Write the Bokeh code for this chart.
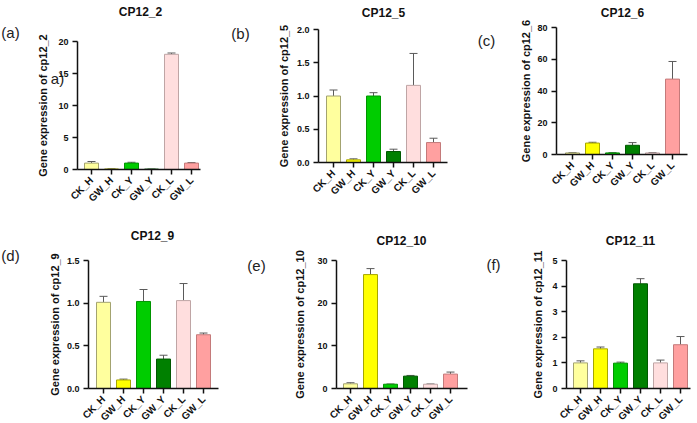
import math

from bokeh.embed import file_html
from bokeh.layouts import column, row
from bokeh.models import (ColumnDataSource, FixedTicker, Label, PrintfTickFormatter,
                          Range1d, TeeHead, Whisker)
from bokeh.plotting import figure
from bokeh.resources import INLINE

# ---- data -------------------------------------------------------------
categories = ["CK_H", "GW_H", "CK_Y", "GW_Y", "CK_L", "GW_L"]
bar_colors = ["#FFFF9E", "#FFFF00", "#00CC00", "#008000", "#FFDEDE", "#FFA0A0"]
edge_colors = ["#A3A370", "#A6A600", "#009400", "#005800", "#BFA5A5", "#C47A7A"]

genes = ["CP12_2", "CP12_5", "CP12_6", "CP12_9", "CP12_10", "CP12_11"]
panel_tags = ["(a)", "(b)", "(c)", "(d)", "(e)", "(f)"]

cp12_2_mean = [1.0, 0.08, 1.0, 0.06, 18.0, 1.0]
cp12_2_sem = [0.25, 0.02, 0.13, 0.01, 0.2, 0.08]
cp12_5_mean = [1.0, 0.04, 1.0, 0.165, 1.16, 0.30]
cp12_5_sem = [0.09, 0.015, 0.05, 0.035, 0.48, 0.065]
cp12_6_mean = [1.0, 7.2, 1.0, 5.8, 1.0, 47.5]
cp12_6_sem = [0.2, 0.5, 0.2, 1.7, 0.25, 11.1]
cp12_9_mean = [1.01, 0.10, 1.02, 0.345, 1.03, 0.63]
cp12_9_sem = [0.07, 0.01, 0.14, 0.045, 0.20, 0.02]
cp12_10_mean = [1.1, 26.7, 1.0, 2.9, 1.0, 3.38]
cp12_10_sem = [0.25, 1.4, 0.06, 0.16, 0.06, 0.47]
cp12_11_mean = [1.0, 1.55, 0.99, 4.09, 1.0, 1.71]
cp12_11_sem = [0.08, 0.07, 0.04, 0.2, 0.11, 0.32]

means = [cp12_2_mean, cp12_5_mean, cp12_6_mean, cp12_9_mean, cp12_10_mean, cp12_11_mean]
sems = [cp12_2_sem, cp12_5_sem, cp12_6_sem, cp12_9_sem, cp12_10_sem, cp12_11_sem]
y_max = [20, 2.0, 80, 1.5, 30, 5]
y_step = [5, 0.5, 20, 0.5, 10, 1]
y_fmt = ["%d", "%.1f", "%d", "%.1f", "%d", "%d"]

# ---- page geometry (pixels) ------------------------------------------
# Each panel's canvas (x0, y0, w, h) and where its axes sit on the page:
# ax = y-axis x, bar1 = first bar centre, xend = right end of x-axis,
# base = y of value 0, top = y of the top tick.
geom = [
    dict(x0=0,   y0=0,   w=230, h=212, ax=77,  bar1=91,  xend=200, base=169, top=41, so=6),
    dict(x0=230, y0=0,   w=230, h=212, ax=318, bar1=333, xend=447, base=162, top=29, so=4),
    dict(x0=460, y0=0,   w=237, h=212, ax=556, bar1=572, xend=687, base=154, top=27, so=2),
    dict(x0=0,   y0=212, w=235, h=211, ax=88,  bar1=103, xend=218, base=388, top=260, so=3),
    dict(x0=235, y0=212, w=235, h=211, ax=336, bar1=350, xend=467, base=388, top=260, so=8),
    dict(x0=470, y0=212, w=227, h=211, ax=566, bar1=580, xend=690, base=388, top=260, so=5),
]
CAT_PX = 20.0  # pixels per category slot
title_pos = [(140, 11), (383, 12), (622, 12), (152, 235), (401, 240), (630, 240)]
tag_pos = [(10, 32), (240, 33), (486, 40), (10, 255), (256, 265), (493, 264)]

FONT = "Liberation Sans"


def canvas_text(p, g, px, py, text, size, style="normal", color="#222222"):
    p.add_layout(Label(x=px - g["x0"], y=py - g["y0"], x_units="canvas", y_units="canvas",
                       text=text, text_align="center", text_baseline="middle",
                       text_font=FONT, text_font_size=size, text_font_style=style,
                       text_color=color))


figs = []
for i, gene in enumerate(genes):
    g = geom[i]
    xs = list(range(1, len(categories) + 1))

    # map the whole canvas onto data ranges so the axes land where wanted
    x_start = 1 - (g["bar1"] - g["x0"]) / CAT_PX
    x_end = x_start + g["w"] / CAT_PX
    y_per_px = y_max[i] / (g["base"] - g["top"])
    y_start = -(g["y0"] + g["h"] - g["base"]) * y_per_px
    y_end = (g["base"] - g["y0"]) * y_per_px
    x_axis_lo = x_start + (g["ax"] - g["x0"]) / CAT_PX
    x_axis_hi = x_start + (g["xend"] - g["x0"]) / CAT_PX

    src = ColumnDataSource(dict(
        x=xs, top=means[i],
        upper=[m + s for m, s in zip(means[i], sems[i])],
        fill=bar_colors, edge=edge_colors,
    ))
    p = figure(width=g["w"], height=g["h"], output_backend="svg",
               toolbar_location=None,
               x_range=Range1d(x_start, x_end), y_range=Range1d(y_start, y_end),
               min_border=0)
    p.title.text = ""
    p.title.visible = False
    p.outline_line_color = None
    p.xgrid.visible = False
    p.ygrid.visible = False

    p.add_layout(Whisker(source=src, base="x", lower="top", upper="upper",
                         line_color="#5A5A5A", line_width=1,
                         upper_head=TeeHead(size=8, line_color="#5A5A5A", line_width=1),
                         lower_head=None, level="underlay"))
    p.vbar(x="x", top="top", width=0.7, bottom=0, source=src,
           fill_color="fill", line_color="edge", line_width=1)

    ticks_y = [k * y_step[i] for k in range(int(round(y_max[i] / y_step[i])) + 1)]
    ya = p.yaxis[0]
    ya.fixed_location = x_axis_lo
    ya.bounds = (0, y_max[i])
    ya.ticker = FixedTicker(ticks=ticks_y)
    ya.formatter = PrintfTickFormatter(format=y_fmt[i])
    ya.axis_label = "Gene expression of " + gene.lower()
    ya.axis_label_text_font = FONT
    ya.axis_label_text_font_size = "11px"
    ya.axis_label_text_font_style = "bold"
    ya.axis_label_text_color = "#111111"
    ya.axis_label_standoff = g["so"]

    xa = p.xaxis[0]
    xa.fixed_location = 0
    xa.bounds = (x_axis_lo, x_axis_hi)
    xa.ticker = FixedTicker(ticks=xs)
    xa.major_label_overrides = {k: c for k, c in zip(xs, categories)}
    xa.major_label_orientation = math.pi / 4

    for ax in (xa, ya):
        ax.axis_line_color = "#111111"
        ax.axis_line_width = 1.5
        ax.major_tick_line_color = "#111111"
        ax.major_tick_line_width = 1.5
        ax.major_tick_out = 5
        ax.major_tick_in = 0
        ax.minor_tick_line_color = None
        ax.major_label_text_font = FONT
        ax.major_label_text_font_style = "bold"
        ax.major_label_text_color = "#111111"
        ax.major_label_standoff = 4
    xa.major_label_text_font_size = "10px"
    ya.major_label_text_font_size = "9px"

    canvas_text(p, g, title_pos[i][0], title_pos[i][1], gene, "12px", "bold", "#111111")
    canvas_text(p, g, tag_pos[i][0], tag_pos[i][1], panel_tags[i], "15px")
    if i == 0:
        canvas_text(p, g, 57, 78, "a)", "15px")
    figs.append(p)

layout = column(row(*[column(f) for f in figs[:3]], spacing=0),
                row(*[column(f) for f in figs[3:]], spacing=0), spacing=0)

open("out.html", "w").write(file_html(layout, INLINE))
